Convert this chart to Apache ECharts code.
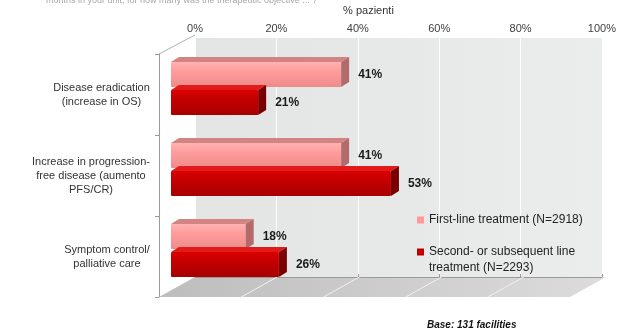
<!DOCTYPE html>
<html>
<head>
<meta charset="utf-8">
<script src="https://cdn.jsdelivr.net/npm/echarts@6/dist/echarts.min.js"></script>
<style>html,body{margin:0;padding:0;background:#fff;}#c{width:619px;height:331px;}</style>
</head>
<body>
<div id="c"></div>
<script>
// ---- data ----
const categories = ['Disease eradication\n(increase in OS)', 'Increase in progression-\nfree disease (aumento\nPFS/CR)', 'Symptom control/\npalliative care'];
const seriesNames = ['First-line treatment (N=2918)', 'Second- or subsequent line\ntreatment (N=2293)'];
const firstLine = [41, 41, 18];
const secondLine = [21, 53, 26];
const xTicks = [0, 20, 40, 60, 80, 100];

const FONT = '"Liberation Sans", Arial, sans-serif';
const chart = echarts.init(document.getElementById('c'), null, {renderer: 'canvas'});

const palettes = [
  {front: ['#ffb3b3', '#ff9d9d', '#ee8a8a'], top: '#d48383', side: '#b36a6a', base: '#ff9999'},
  {front: ['#dc0000', '#c40000', '#a80000'], top: '#e21a1a', side: '#7a0000', base: '#c00000'}
];
const DX = 8, DY = 5, H = 25, OFF = 14;

function renderBar(params, api) {
  const s = params.seriesIndex;
  const p = palettes[s];
  const v = api.value(0), cat = api.value(1);
  const b = api.coord([0, cat]);
  const e = api.coord([v, cat]);
  const cy = b[1] + (s === 0 ? -OFF : OFF);
  const top = cy - H / 2;
  const x0 = b[0], x1 = e[0];
  return {
    type: 'group',
    children: [
      {type: 'polygon', shape: {points: [[x0, top], [x0 + DX, top - DY], [x1 + DX, top - DY], [x1, top]]},
        style: {fill: p.top}},
      {type: 'rect', shape: {x: x0, y: top, width: x1 - x0, height: H, r: 1},
        style: {fill: new echarts.graphic.LinearGradient(0, 0, 0, 1, [
          {offset: 0, color: p.front[0]}, {offset: 0.35, color: p.front[1]}, {offset: 1, color: p.front[2]}])}},
      {type: 'polygon', shape: {points: [[x1, top], [x1 + DX, top - DY], [x1 + DX, top + H - DY], [x1, top + H]]},
        style: {fill: p.side}},
      {type: 'text', x: x1 + DX + 9, y: cy,
        style: {text: v + '%', font: 'bold 12px ' + FONT, fill: '#1a1a1a', verticalAlign: 'middle', align: 'left'}}
    ]
  };
}

// floor & walls (decoration)
const FL = {fx0: 159, fx1: 570, fy: 297, bx0: 195, bx1: 606, by: 277};
const floorLines = [];
for (let k = 1; k < xTicks.length - 1; k++) {
  const t = xTicks[k] / 100;
  floorLines.push({type: 'line', z: 1,
    shape: {x1: FL.fx0 + t * (FL.fx1 - FL.fx0), y1: FL.fy, x2: FL.bx0 + t * (FL.bx1 - FL.bx0), y2: FL.by},
    style: {stroke: '#f2f2f2', lineWidth: 1}});
}

// per-category right padding so that each centred label block ends near x=150
const labelPad = [11, 32, 0];
const catRich = {};
labelPad.forEach((p, i) => {
  catRich['c' + i] = {fontSize: 11, lineHeight: 14, color: '#333', fontFamily: FONT, padding: [0, p, 0, 0], align: 'center'};
});

const option = {
  backgroundColor: '#ffffff',
  animation: false,
  textStyle: {fontFamily: FONT},
  grid: [
    {left: 195, top: 35, width: 411, height: 242, show: true, borderWidth: 0,
      backgroundColor: new echarts.graphic.LinearGradient(0, 0, 1, 0, [
        {offset: 0, color: '#e3e5e5'}, {offset: 1, color: '#ebeded'}])},
    {left: 159, top: 54, width: 411, height: 243},
    {left: 171, top: 48, width: 415, height: 243}
  ],
  xAxis: [
    {gridIndex: 0, type: 'value', position: 'top', min: 0, max: 100, interval: 20,
      name: '% pazienti', nameLocation: 'middle', nameGap: 22,
      nameTextStyle: {fontSize: 11, color: '#333', fontFamily: FONT, padding: [0, 60, 0, 0]},
      axisLine: {show: true, lineStyle: {color: '#9a9a9a'}},
      axisTick: {show: true, length: 3, lineStyle: {color: '#9a9a9a'}},
      axisLabel: {formatter: '{value}%', fontSize: 11, color: '#404040', margin: 4, fontFamily: FONT},
      splitLine: {show: true, lineStyle: {color: '#ffffff', width: 1}}},
    {gridIndex: 1, type: 'value', min: 0, max: 100, show: false},
    {gridIndex: 2, type: 'value', min: 0, max: 100, show: false}
  ],
  yAxis: [
    {gridIndex: 0, type: 'value', show: false},
    {gridIndex: 1, type: 'category', inverse: true, data: categories,
      axisLine: {show: true, lineStyle: {color: '#9a9a9a'}},
      axisTick: {show: true, length: 4, lineStyle: {color: '#9a9a9a'}},
      axisLabel: {align: 'center', margin: 52, fontSize: 11, lineHeight: 14, color: '#333', fontFamily: FONT,
        formatter: (val, idx) => val.split('\n').map(l => '{c' + idx + '|' + l + '}').join('\n'),
        rich: catRich}},
    {gridIndex: 2, type: 'category', inverse: true, data: categories, show: false}
  ],
  legend: [
    {data: [seriesNames[0]], left: 412, top: 209, orient: 'vertical', itemWidth: 7, itemHeight: 7,
      icon: 'rect', textStyle: {fontSize: 12, color: '#222', fontFamily: FONT}, selectedMode: false},
    {data: [seriesNames[1]], left: 412, top: 223, orient: 'vertical',
      itemWidth: 7, itemHeight: 7, icon: 'rect', selectedMode: false,
      formatter: name => '{e| }\n' + name.split('\n').map(l => '{a|' + l + '}').join('\n'),
      textStyle: {fontSize: 12, lineHeight: 16, color: '#222', fontFamily: FONT,
        rich: {e: {fontSize: 12, lineHeight: 16}, a: {fontSize: 12, lineHeight: 16, color: '#222', fontFamily: FONT}}}}
  ],
  graphic: [
    {type: 'text', left: 46, top: -4, z: 10,
      style: {text: 'months in your unit, for how many was the therapeutic objective ... ?', font: '9px ' + FONT, fill: '#a8a8a8'}},
    {type: 'polygon', z: 0, shape: {points: [[FL.fx0, FL.fy], [FL.bx0, FL.by], [FL.bx1, FL.by], [FL.fx1, FL.fy]]},
      style: {fill: new echarts.graphic.LinearGradient(0, 0, 1, 0, [
        {offset: 0, color: '#bdbdbd'}, {offset: 1, color: '#dcdcdc'}])}},
    ...floorLines,
    {type: 'line', z: 1, shape: {x1: 159, y1: 54, x2: 195, y2: 35}, style: {stroke: '#b0b0b0', lineWidth: 1}},
    {type: 'text', left: 427, top: 320, z: 10,
      style: {text: 'Base: 131 facilities', font: 'italic bold 10px ' + FONT, fill: '#111'}}
  ],
  series: [
    {name: seriesNames[0], type: 'custom', xAxisIndex: 2, yAxisIndex: 2, z: 5,
      itemStyle: {color: palettes[0].base}, renderItem: renderBar,
      encode: {x: 0, y: 1}, data: firstLine.map((v, i) => [v, i])},
    {name: seriesNames[1], type: 'custom', xAxisIndex: 2, yAxisIndex: 2, z: 6,
      itemStyle: {color: palettes[1].base}, renderItem: renderBar,
      encode: {x: 0, y: 1}, data: secondLine.map((v, i) => [v, i])}
  ]
};
chart.setOption(option);
</script>
</body>
</html>
